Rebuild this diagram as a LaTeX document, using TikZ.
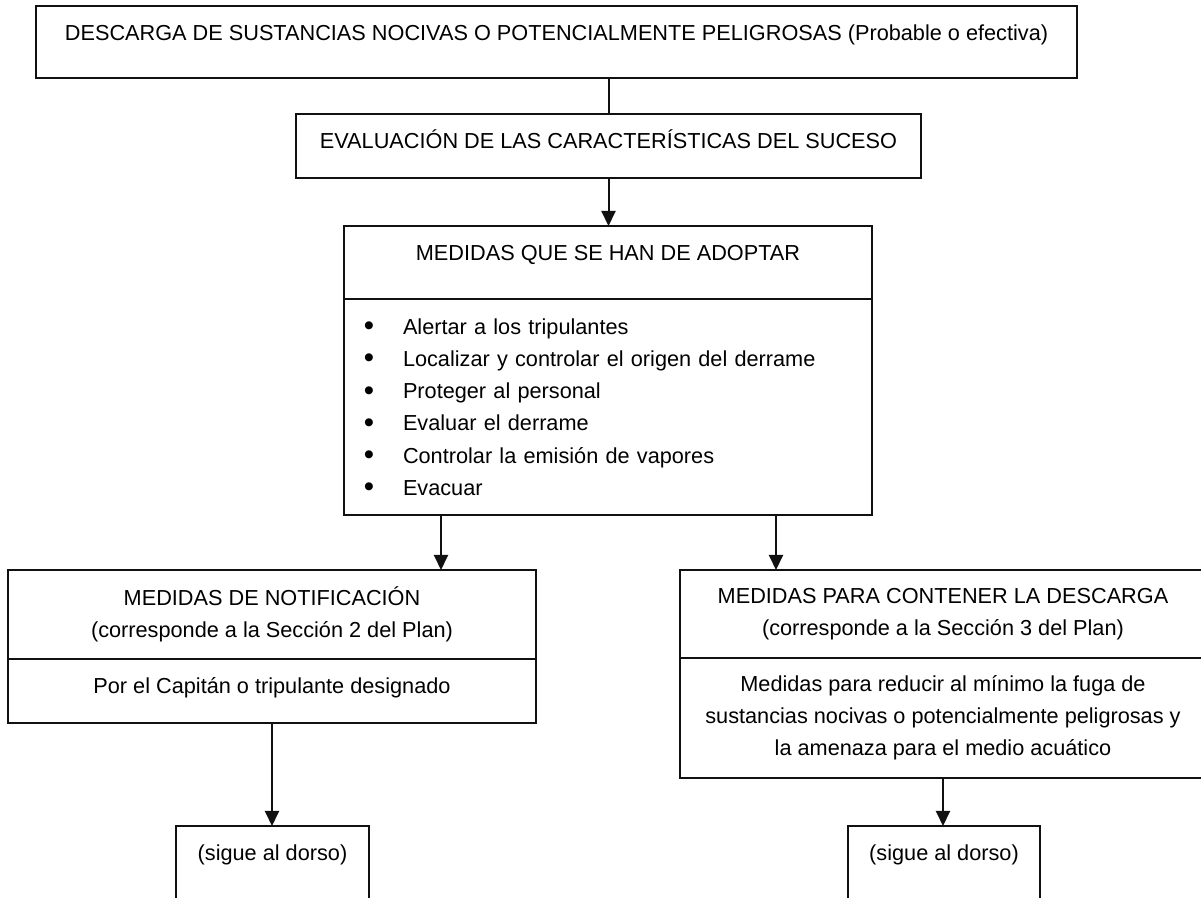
\documentclass[tikz,border=0pt]{standalone}
\usepackage{fontspec}
\setmainfont{Liberation Sans}
\usepackage{tikz}
\usepackage{xcolor}
\usetikzlibrary{arrows.meta,positioning}
\definecolor{Ink}{HTML}{111111}
\newcommand{\bulletrow}[1]{\makebox[25pt][c]{\smash{\raisebox{-0.07em}{\scalebox{1.35}{•}}}}\hspace{4.5pt}#1}

\begin{document}
\begin{tikzpicture}[
    x=0.5pt, y=-0.5pt,
    font=\fontsize{10.85pt}{16.1pt}\selectfont,
    box/.style={draw=Ink, line width=0.9pt, inner xsep=0pt, inner ysep=0pt, outer sep=0pt, align=center, anchor=north},
    line/.style={box, text height=17.5pt},
    arrow/.style={-{Triangle[length=7.5pt, width=7pt]}, line width=1pt, draw=Ink}
  ]
    \clip (0,0) rectangle (1201,898);

    \node[line, minimum width=520.5pt, text depth=18.5pt] (a) at (556.5,6) {DESCARGA DE SUSTANCIAS NOCIVAS O POTENCIALMENTE PELIGROSAS (Probable o efectiva)};
    \node[line, minimum width=312.5pt, text depth=14.5pt] (b) at (608.5,114) {EVALUACIÓN DE LAS CARACTERÍSTICAS DEL SUCESO};
    \node[line, minimum width=264pt, text depth=19pt] (ct) at (608,226) {MEDIDAS QUE SE HAN DE ADOPTAR};
    \node[box, below=0pt of ct, text width=264pt, minimum height=108pt, align=left] (cb) {\bulletrow{Alertar a los tripulantes}\\
      \bulletrow{Localizar y controlar el origen del derrame}\\
      \bulletrow{Proteger al personal}\\
      \bulletrow{Evaluar el derrame}\\
      \bulletrow{Controlar la emisión de vapores}\\
      \bulletrow{Evacuar}};

    \node[box, minimum width=264pt, minimum height=44.5pt] (dt) at (272,570) {MEDIDAS DE NOTIFICACIÓN\\(corresponde a la Sección 2 del Plan)};
    \node[line, below=0pt of dt, minimum width=264pt, text depth=14.5pt] (db) {Por el Capitán o tripulante designado};
    \node[box, minimum width=263pt, minimum height=44pt] (et) at (943,570) {MEDIDAS PARA CONTENER LA DESCARGA\\(corresponde a la Sección 3 del Plan)};
    \node[box, below=0pt of et, minimum width=263pt, minimum height=60pt] (eb) {Medidas para reducir al mínimo la fuga de\\sustancias nocivas o potencialmente peligrosas y\\la amenaza para el medio acuático};

    \node[line, minimum width=96.5pt, text depth=30pt] (f) at (272.5,826) {(sigue al dorso)};
    \node[line, minimum width=96pt, text depth=30pt] (g) at (944,826) {(sigue al dorso)};

    \draw[line width=1pt, draw=Ink] (a.south -| b.north) -- (b.north);
    \draw[arrow] (b.south) -- (b.south |- ct.north);
    \draw[arrow] ([xshift=48.5pt]cb.south west) -- ([xshift=216.5pt]dt.north west);
    \draw[arrow] ([xshift=216pt]cb.south west) -- ([xshift=48pt]et.north west);
    \draw[arrow] (db.south) -- (db.south |- f.north);
    \draw[arrow] (eb.south) -- (eb.south |- g.north);
\end{tikzpicture}
\end{document}
